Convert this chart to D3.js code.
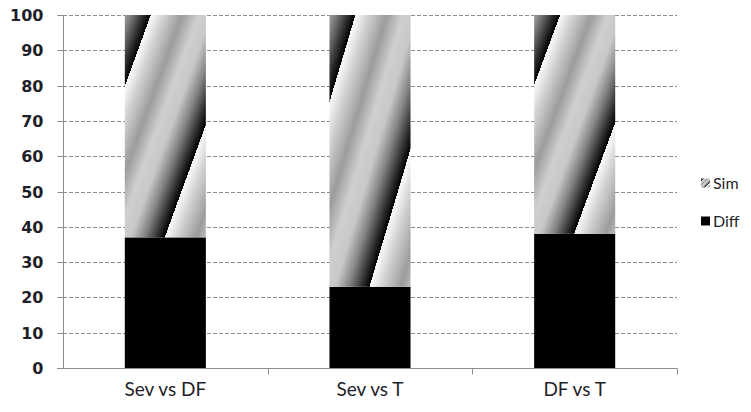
<!DOCTYPE html>
<html>
<head>
<meta charset="utf-8">
<script src="https://cdn.jsdelivr.net/npm/d3@7"></script>
<style>
  html, body { margin: 0; padding: 0; background: #fff; }
  svg { display: block; }
</style>
</head>
<body>
<svg id="chart" width="751" height="412"></svg>
<script>
const categories = ["Sev vs DF", "Sev vs T", "DF vs T"];
const diffValues = [37, 23, 38];
const simValues = [63, 77, 62];
const seriesNames = ["Sim", "Diff"];
const yTicks = [0, 10, 20, 30, 40, 50, 60, 70, 80, 90, 100];

const svg = d3.select("#chart");
const margin = { left: 63, right: 74, top: 15, bottom: 44 };
const W = 751, H = 412;
const x0 = margin.left, x1 = W - margin.right;
const y0 = H - margin.bottom, y1 = margin.top;

const x = d3.scaleBand().domain(categories).range([x0, x1]).paddingInner(0.604).paddingOuter(0.302);
const y = d3.scaleLinear().domain([0, 100]).range([y0, y1]);

// gradient for Sim
const defs = svg.append("defs");
const grad = defs.append("linearGradient")
  .attr("id", "simGrad")
  .attr("gradientUnits", "objectBoundingBox")
  .attr("spreadMethod", "repeat")
  .attr("x1", 0.32).attr("y1", 0)
  .attr("x2", 0.32 + 0.5865).attr("y2", 0.5865);
[
  [0.00, "#fbfbfb"],
  [0.12, "#d6d6d6"],
  [0.33, "#9c9c9c"],
  [0.50, "#cfcfcf"],
  [0.64, "#c8c8c8"],
  [0.78, "#858585"],
  [0.92, "#2e2e2e"],
  [1.00, "#000000"]
].forEach(([o, c]) => grad.append("stop").attr("offset", o).attr("stop-color", c));

// gridlines
svg.append("g").selectAll("line").data(yTicks.filter(d => d > 0)).join("line")
  .attr("x1", x0).attr("x2", x1)
  .attr("y1", d => Math.round(y(d)) + 0.5).attr("y2", d => Math.round(y(d)) + 0.5)
  .attr("stroke", "#8c8c8c").attr("stroke-width", 1)
  .attr("stroke-dasharray", "4,2");

// bars
const stack = categories.map((c, i) => ({ c, diff: diffValues[i], sim: simValues[i] }));
const g = svg.append("g");
g.selectAll("rect.diff").data(stack).join("rect")
  .attr("class", "diff")
  .attr("x", d => x(d.c)).attr("width", x.bandwidth())
  .attr("y", d => y(d.diff)).attr("height", d => y(0) - y(d.diff))
  .attr("fill", "#000");
g.selectAll("rect.sim").data(stack).join("rect")
  .attr("class", "sim")
  .attr("x", d => x(d.c)).attr("width", x.bandwidth())
  .attr("y", d => y(d.diff + d.sim)).attr("height", d => y(d.diff) - y(d.diff + d.sim))
  .attr("fill", "url(#simGrad)");

// y axis
const yAxis = d3.axisLeft(y).tickValues(yTicks).tickSize(6).tickPadding(14);
const ya = svg.append("g").attr("transform", `translate(${x0 + 0.5},0)`).call(yAxis);
ya.select(".domain").attr("stroke", "#8c8c8c").attr("d", `M-6,${y1 + 0.5}H0V${y0}`);
ya.selectAll(".tick line").attr("stroke", "#8c8c8c");
ya.selectAll(".tick").attr("transform", d => `translate(0,${Math.round(y(d)) + 0.5})`);
ya.selectAll(".tick text")
  .attr("font-family", "DejaVu Sans, Verdana, sans-serif")
  .attr("font-size", 16).attr("font-weight", "bold")
  .attr("fill", "#1f1f2a");

// x axis
const xa = svg.append("g").attr("transform", `translate(0,${y0 + 0.5})`);
xa.append("line").attr("x1", x0 - 6).attr("x2", x1 + 0.5).attr("stroke", "#8c8c8c");
const bounds = categories.map((c, i) => x0 + (x1 - x0) / categories.length * (i + 1));
xa.selectAll("line.tk").data(bounds).join("line").attr("class", "tk")
  .attr("x1", d => Math.round(d) + 0.5).attr("x2", d => Math.round(d) + 0.5)
  .attr("y1", 0).attr("y2", 6).attr("stroke", "#8c8c8c");
xa.selectAll("text").data(categories).join("text")
  .attr("x", d => x(d) + x.bandwidth() / 2)
  .attr("y", 27)
  .attr("text-anchor", "middle")
  .attr("font-family", "Lato, 'Open Sans', sans-serif")
  .attr("font-size", 19)
  .attr("fill", "#1f1f2a")
  .text(d => d);

// legend
const legend = svg.append("g").attr("transform", "translate(701,0)");
const legY = [183, 221];
const legFill = ["url(#simGrad)", "#000"];
legend.selectAll("rect").data(seriesNames).join("rect")
  .attr("x", 0).attr("y", (d, i) => legY[i] - 4.5)
  .attr("width", 9).attr("height", 9)
  .attr("fill", (d, i) => legFill[i]);
legend.selectAll("text").data(seriesNames).join("text")
  .attr("x", 12).attr("y", (d, i) => legY[i])
  .attr("dy", "0.35em")
  .attr("font-family", "Lato, 'Open Sans', sans-serif")
  .attr("font-size", 16)
  .attr("fill", "#1f1f2a")
  .text(d => d);
</script>
</body>
</html>
